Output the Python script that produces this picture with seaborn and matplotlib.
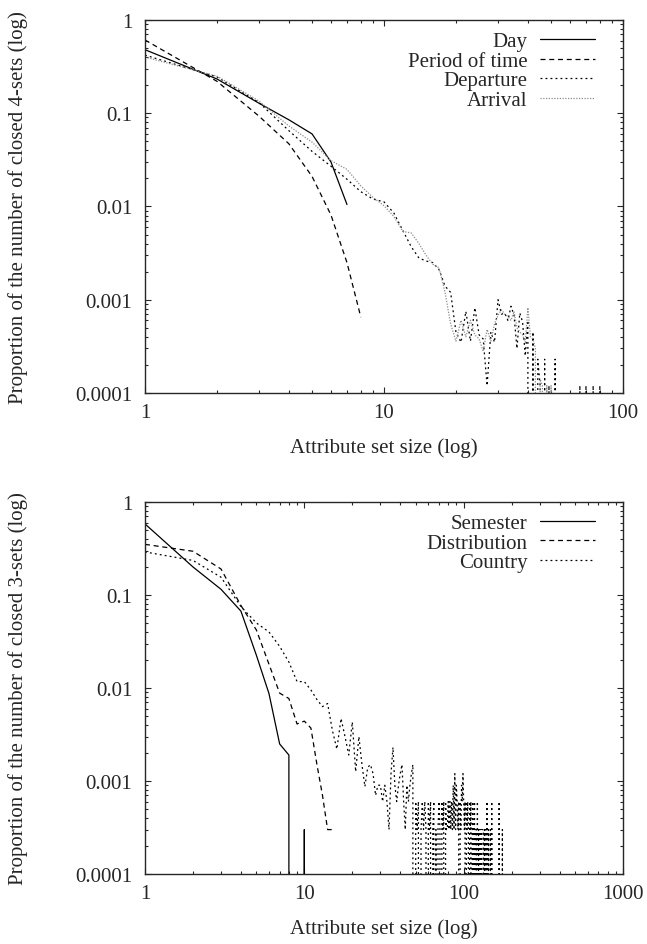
import matplotlib
matplotlib.use('Agg')
import matplotlib.pyplot as plt
import matplotlib.ticker as mticker
import seaborn as sns

# ---- top panel: closed 4-sets ----
day_size = [1, 2, 3, 4, 5, 6, 7]
day_prop = [0.48, 0.233, 0.128, 0.085, 0.06, 0.03, 0.0105]

period_size = [1, 2, 3, 4, 5, 6, 7, 8]
period_prop = [0.61, 0.22, 0.093, 0.047, 0.021, 0.0081, 0.0025, 0.00065]

# attribute set sizes 1..81
departure_prop = [0.42, 0.245, 0.13, 0.065, 0.039, 0.027, 0.0196, 0.0144, 0.012, 0.0112,
                  0.0085, 0.0055, 0.0037, 0.0028, 0.0026, 0.0025, 0.0021, 0.0014, 0.0012, 0.00045,
                  0.00035, 0.00075, 0.00036, 0.00082, 0.00042, 0.00038, 0.00012, 0.00045, 0.00035, 0.001,
                  0.0007, 0.00072, 0.0006, 0.00085, 0.00068, 0.0003, 0.00072, 0.00058, 0.00025, 0.0006,
                  0, 0.00045, 0, 0.00023, 0.00012, 0, 0.00023, 0, 0.00012, 0,
                  0, 0.00023, 0, 0, 0, 0, 0, 0, 0, 0,
                  0, 0, 0, 0, 0, 0.00012, 0, 0, 0, 0.00012,
                  0, 0, 0, 0, 0.00012, 0, 0, 0, 0, 0.00012,
                  0]
departure_size = list(range(1, len(departure_prop) + 1))

arrival_prop = [0.40, 0.25, 0.135, 0.073, 0.049, 0.031, 0.025, 0.0166, 0.0125, 0.0102,
                0.0078, 0.0054, 0.0052, 0.004, 0.003, 0.0024, 0.0022, 0.0012, 0.00055, 0.00036,
                0.0006, 0.0004, 0.0006, 0.00042, 0.00038, 0.00028, 0.00048, 0.00036, 0.00055, 0.00068,
                0.00078, 0.0007, 0.00066, 0.0006, 0.00075, 0.0005, 0.00045, 0.00042, 0.00035, 0.00082,
                0.0004, 0.00038, 0.0003, 0, 0.00014, 0.00012, 0, 0.00012, 0, 0.00012,
                0]
arrival_size = list(range(1, len(arrival_prop) + 1))

# ---- bottom panel: closed 3-sets ----
semester_size = [1, 2, 3, 4, 5, 6, 7, 8, 9, 10, 11]
semester_prop = [0.58, 0.20, 0.115, 0.067, 0.0225, 0.0087, 0.0025, 0.0019, 0, 0.0003, 0]

distribution_size = list(range(1, 16))
distribution_prop = [0.35, 0.295, 0.19, 0.077, 0.042, 0.018, 0.0088, 0.0077, 0.0041, 0.0044,
                     0.0037, 0.0015, 0.0007, 0.0003, 0.0003]

# attribute set sizes 1..180
country_prop = [0.29, 0.235, 0.155, 0.075, 0.05, 0.04, 0.028, 0.019, 0.0117, 0.0117,
                0.0095, 0.0075, 0.0063, 0.0068, 0.0035, 0.0022, 0.0047, 0.003, 0.0019, 0.0043,
                0.00126, 0.003, 0.0015, 0.00087, 0.0014, 0.0015, 0.0012, 0.0007, 0.0009, 0.0009,
                0.0006, 0.0009, 0.0006, 0.0003, 0.0012, 0.0023, 0.0009, 0.0006, 0.0009, 0.0012,
                0.0015, 0.0006, 0.0003, 0.0009, 0.0006, 0.0009, 0.0012, 0.0015, 0, 0.0006,
                0.0003, 0.0006, 0, 0.0003, 0.0006, 0.0003, 0.0006, 0.0003, 0, 0.0006,
                0.0003, 0.0006, 0, 0.0003, 0.0006, 0, 0.0003, 0, 0.0003, 0.0006,
                0.0003, 0, 0.0006, 0.0003, 0.0006, 0, 0.0006, 0.0003, 0.0003, 0.0006,
                0.0003, 0.0006, 0.0003, 0.0006, 0.0003, 0.0009, 0.0003, 0.0012, 0.0003, 0.0009,
                0.0006, 0.0003, 0.0006, 0, 0.0006, 0.0003, 0.0009, 0.0006, 0.0012, 0.0006,
                0.0003, 0.0006, 0, 0.0006, 0.0003, 0.0006, 0.0003, 0, 0.0006, 0.0003,
                0.0006, 0, 0.0003, 0.0006, 0, 0.0003, 0.0006, 0, 0.0003, 0.0003,
                0, 0.0006, 0, 0.0003, 0, 0.0003, 0.0003, 0.0003, 0, 0.0003,
                0.0003, 0.0003, 0.0003, 0, 0.0003, 0, 0.0003, 0.0003, 0, 0.0006,
                0, 0, 0.0003, 0, 0, 0, 0.0003, 0, 0, 0.0006,
                0, 0, 0, 0, 0, 0, 0, 0, 0, 0,
                0, 0, 0, 0, 0, 0, 0.0006, 0, 0, 0,
                0, 0, 0, 0, 0.0003, 0, 0, 0, 0, 0]
country_size = list(range(1, len(country_prop) + 1))

x_label = 'Attribute set size (log)'
y_label_top = 'Proportion of the number of closed 4-sets (log)'
y_label_bottom = 'Proportion of the number of closed 3-sets (log)'

sns.set_style('ticks')
plt.rcParams['font.family'] = ['Liberation Serif', 'DejaVu Serif']
plt.rcParams['font.size'] = 15

dash = (0, (4, 3))
dot = (0, (1.5, 2.5))
fine_dot = (0, (1, 1.2))

fig = plt.figure(figsize=(6.47, 9.45), dpi=100)
ax1 = fig.add_axes([0.2241, 0.5831, 0.7388, 0.3947])
ax2 = fig.add_axes([0.2241, 0.0741, 0.7388, 0.3937])

lw = 0.9
sns.lineplot(x=day_size, y=day_prop, ax=ax1, color='black', lw=lw, label='Day', estimator=None)
sns.lineplot(x=period_size, y=period_prop, ax=ax1, color='black', lw=lw, linestyle=dash,
             label='Period of time', estimator=None)
sns.lineplot(x=departure_size, y=departure_prop, ax=ax1, color='black', lw=lw, linestyle=dot,
             label='Departure', estimator=None)
sns.lineplot(x=arrival_size, y=arrival_prop, ax=ax1, color='#8c8c8c', lw=lw, linestyle=fine_dot,
             label='Arrival', estimator=None)

sns.lineplot(x=semester_size, y=semester_prop, ax=ax2, color='black', lw=lw, label='Semester',
             estimator=None)
sns.lineplot(x=distribution_size, y=distribution_prop, ax=ax2, color='black', lw=lw, linestyle=dash,
             label='Distribution', estimator=None)
sns.lineplot(x=country_size, y=country_prop, ax=ax2, color='black', lw=lw, linestyle=dot,
             label='Country', estimator=None)

for ax, xmax, ylab in [(ax1, 100, y_label_top), (ax2, 1000, y_label_bottom)]:
    ax.set_xscale('log', nonpositive='clip')
    ax.set_yscale('log', nonpositive='clip')
    ax.set_xlim(1, xmax)
    ax.set_ylim(0.0001, 1)
    xt = [v for v in [1, 10, 100, 1000] if v <= xmax]
    ax.set_xticks(xt)
    ax.set_xticklabels([str(v) for v in xt])
    ax.set_yticks([0.0001, 0.001, 0.01, 0.1, 1])
    ax.set_yticklabels(['0.0001', '0.001', '0.01', '0.1', '1'])
    ax.xaxis.set_minor_locator(mticker.LogLocator(base=10, subs=range(2, 10)))
    ax.yaxis.set_minor_locator(mticker.LogLocator(base=10, subs=range(2, 10), numticks=20))
    ax.xaxis.set_minor_formatter(mticker.NullFormatter())
    ax.yaxis.set_minor_formatter(mticker.NullFormatter())
    ax.tick_params(which='both', direction='in', top=True, right=True, width=0.8, labelsize=15)
    ax.tick_params(which='major', length=4.5)
    ax.tick_params(which='minor', length=2.5)
    ax.tick_params(axis='x', which='major', pad=7)
    ax.tick_params(axis='y', which='major', pad=9)
    for sp in ax.spines.values():
        sp.set_linewidth(1.0)
        sp.set_visible(True)
    ax.set_xlabel(x_label, fontsize=15)
    ax.set_ylabel(ylab, fontsize=15)
    ax.xaxis.set_label_coords(0.5, -0.12)
    ax.yaxis.set_label_coords(-0.245, 0.5)
    ax.legend(loc='upper right', bbox_to_anchor=(0.959, 0.991), borderaxespad=0, frameon=False,
              markerfirst=False, handlelength=2.65, handletextpad=0.6, labelspacing=0.0,
              fontsize=15)

fig.savefig('out.png', dpi=100)
